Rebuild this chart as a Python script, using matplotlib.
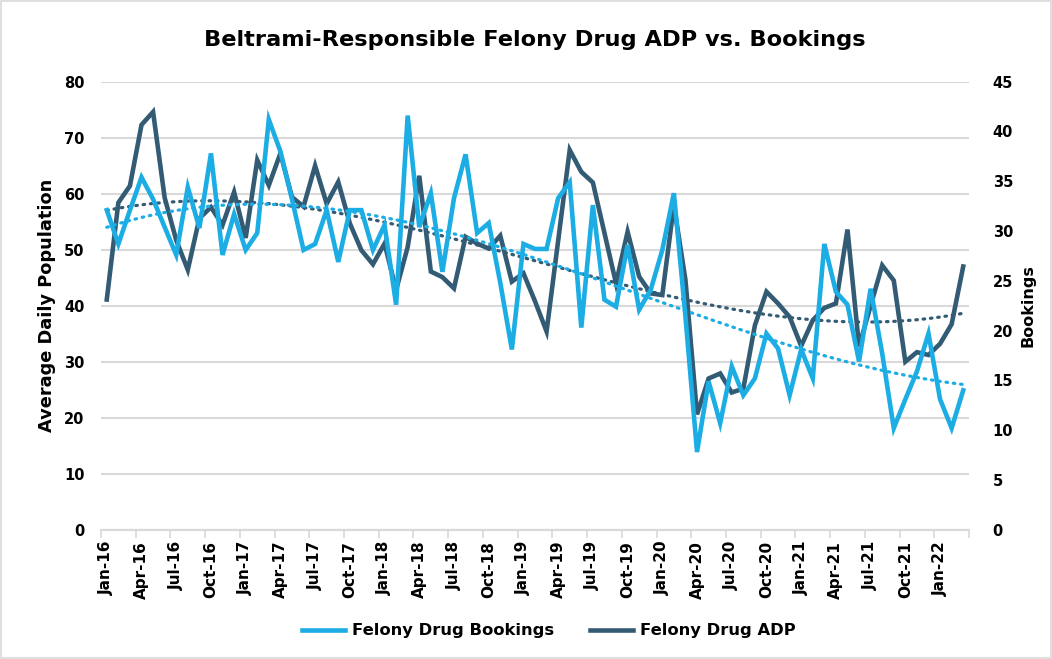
import numpy as np
import pandas as pd
import matplotlib
matplotlib.use("Agg")
import matplotlib.pyplot as plt
from matplotlib.lines import Line2D
from matplotlib.patches import Rectangle

plt.rcParams['font.family'] = ['DejaVu Sans']
plt.rcParams['font.weight'] = 'bold'

# 月份（Jan-16 ~ Mar-22）
months = pd.date_range('2016-01-01', periods=75, freq='MS').strftime('%b-%y').tolist()

# Felony Drug ADP（左軸）
adp = [41.1, 58.4, 61.4, 72.3, 74.6, 59.3, 51.7, 46.4, 55.6, 57.6,
       54.4, 60.3, 52.1, 66.0, 61.5, 67.2, 59.4, 57.7, 65.0, 58.2,
       62.1, 54.7, 49.9, 47.4, 51.1, 42.8, 50.5, 63.2, 46.1, 45.1,
       43.1, 52.3, 51.1, 50.2, 52.5, 44.3, 45.8, 40.8, 35.4, 51.6,
       67.8, 63.9, 62.0, 53.0, 44.0, 53.2, 45.2, 42.2, 41.9, 58.0,
       44.6, 20.6, 27.0, 27.9, 24.5, 25.2, 36.5, 42.5, 40.4, 38.0,
       32.8, 37.4, 39.6, 40.4, 53.6, 32.7, 40.0, 47.2, 44.5, 30.0,
       31.7, 31.2, 33.2, 36.7, 47.0]

# Felony Drug Bookings（右軸）
bookings = [32.1, 28.7, 32.1, 35.4, 33.2, 30.4, 27.6, 34.4, 30.3, 37.8,
            27.6, 31.7, 28.1, 29.8, 41.2, 38.0, 33.2, 28.1, 28.7, 32.1,
            26.9, 32.1, 32.1, 28.1, 30.6, 22.6, 41.6, 30.4, 33.8, 25.9,
            33.3, 37.7, 29.8, 30.8, 24.8, 18.1, 28.7, 28.2, 28.2, 33.3,
            34.9, 20.3, 32.6, 23.1, 22.4, 28.6, 22.1, 24.1, 28.1, 33.8,
            21.4, 7.8, 14.9, 10.7, 16.4, 13.5, 15.2, 19.7, 18.2, 13.5,
            18.1, 15.2, 28.7, 23.9, 22.6, 16.9, 24.2, 17.7, 10.2, 13.1,
            15.9, 19.7, 13.1, 10.2, 14.0]

C_LIGHT = '#1CADE4'
C_DARK = '#335B74'
GRID = '#D9D9D9'

x = np.arange(len(months))

fig = plt.figure(figsize=(10.52, 6.59), dpi=100)
ax = fig.add_axes([101 / 1052, 1 - 529.7 / 659, 868 / 1052, 448 / 659])
ax2 = ax.twinx()

# 主線
ax.plot(x, adp, color=C_DARK, lw=3.3, solid_joinstyle='miter', zorder=3)
ax2.plot(x, bookings, color=C_LIGHT, lw=3.3, solid_joinstyle='miter', zorder=3)

# 多項式趨勢線
p_adp = np.poly1d(np.polyfit(x, adp, 3))
p_bk = np.poly1d(np.polyfit(x, bookings, 3))
ax.plot(x, p_adp(x), color=C_DARK, lw=2.3, ls=(0, (0.5, 1.8)),
        dash_capstyle='round', zorder=2)
ax2.plot(x, p_bk(x), color=C_LIGHT, lw=2.3, ls=(0, (0.5, 1.8)),
         dash_capstyle='round', zorder=2)

# 座標軸
ax.set_xlim(-0.5, len(months) - 0.5)
ax.set_ylim(0, 80)
ax2.set_ylim(0, 45)
ax.set_yticks(range(0, 81, 10))
ax2.set_yticks(range(0, 46, 5))
ax.yaxis.grid(True, color=GRID, lw=1.5)
ax.set_axisbelow(True)

ax.set_xticks(x[::3])
ax.set_xticklabels(months[::3], rotation=90, fontsize=11, fontweight='bold')
ax.set_xticks(np.arange(-0.5, len(months), 3), minor=True)
ax.tick_params(axis='x', which='major', length=0, pad=8)
ax.tick_params(axis='x', which='minor', length=6, color=GRID, width=1.2)
ax.tick_params(axis='y', length=0, labelsize=10.5, pad=12)
ax2.tick_params(axis='y', length=0, labelsize=10.5, pad=17)
for t in ax.get_yticklabels() + ax2.get_yticklabels():
    t.set_fontweight('bold')

for a in (ax, ax2):
    for s in ['top', 'left', 'right']:
        a.spines[s].set_visible(False)
    a.spines['bottom'].set_color(GRID)
    a.spines['bottom'].set_linewidth(1.5)

ax.set_ylabel('Average Daily Population', fontsize=12.8, fontweight='bold', labelpad=6)
ax2.set_ylabel('Bookings', fontsize=11.5, fontweight='bold', labelpad=5)

fig.text(0.508, 1 - 40 / 659, 'Beltrami-Responsible Felony Drug ADP vs. Bookings',
         ha='center', va='center', fontsize=16.2, fontweight='bold')

handles = [Line2D([], [], color=C_LIGHT, lw=3.3), Line2D([], [], color=C_DARK, lw=3.3)]
fig.legend(handles, ['Felony Drug Bookings', 'Felony Drug ADP'], loc='center',
           bbox_to_anchor=(0.522, 1 - 631 / 659), ncol=2, frameon=False,
           fontsize=11.8, columnspacing=2.2, handlelength=2.6, handletextpad=0.45)

fig.patches.append(Rectangle((0.001, 0.001), 0.998, 0.997, transform=fig.transFigure,
                             fill=False, edgecolor=GRID, lw=1.2))

fig.savefig('out.png', dpi=100)
